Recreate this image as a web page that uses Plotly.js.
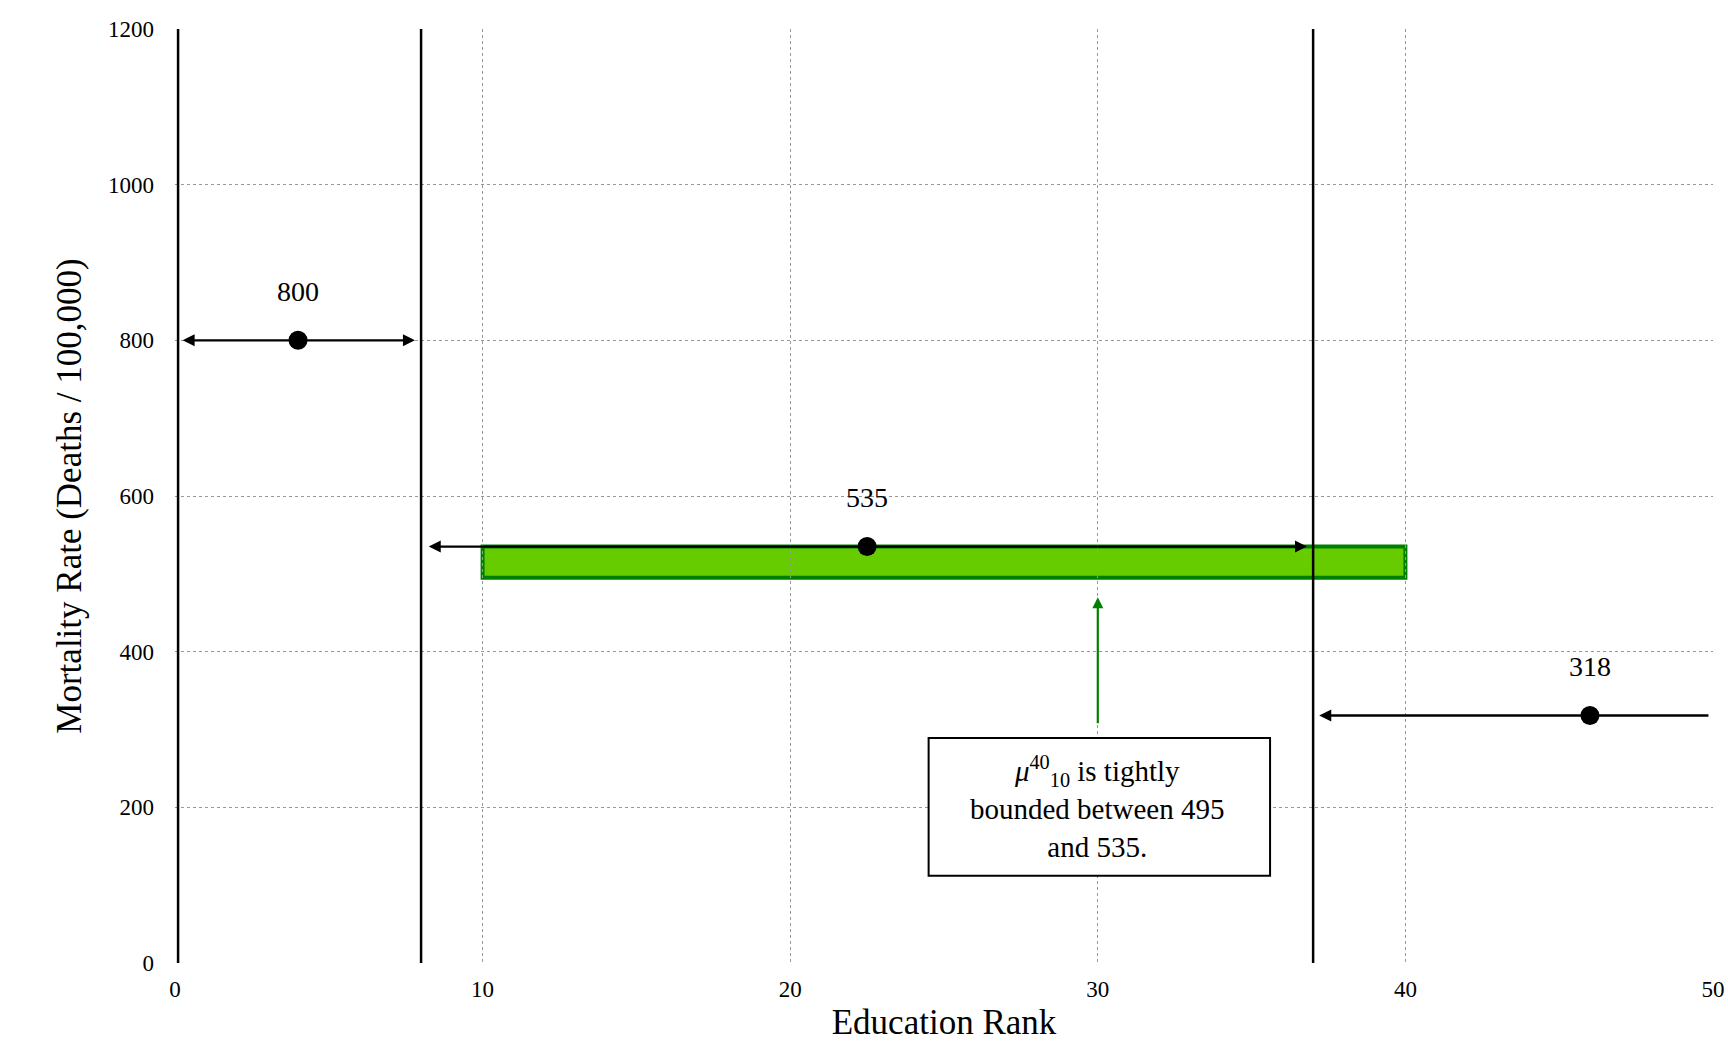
<!DOCTYPE html>
<html><head><meta charset="utf-8">
<script src="https://cdn.plot.ly/plotly-3.0.1.min.js"></script>
<style>body{margin:0}</style></head>
<body><div id="c" style="width:1728px;height:1062px"></div>
<script>
const pointX = [4, 22.5, 46];
const pointY = [800, 535, 318];
const pointLabels = ["800", "535", "318"];
const vlineX = [0.1, 8, 37];
const rangeStart = [0.2, 8.2, 49.9];
const rangeEnd = [7.8, 36.8, 37.2];
const bandX = [10, 40];
const bandY = [495, 535];
const xTicks = [0, 10, 20, 30, 40, 50];
const yTicks = [0, 200, 400, 600, 800, 1000, 1200];

const F = "Liberation Serif, serif";
const shapes = vlineX.map(v => ({type:'line', x0:v, x1:v, y0:0, y1:1200, line:{color:'black', width:2.5}}));
shapes.push({type:'rect', x0:bandX[0], x1:bandX[1], y0:bandY[0], y1:bandY[1], fillcolor:'#66cc00', line:{color:'#008000', width:4}, layer:'below'});
shapes.push({type:'rect', x0:24.5, x1:35.6, y0:112, y1:289, fillcolor:'white', line:{color:'black', width:2}});

const ann = [];
pointX.forEach((x,i) => {
  ann.push({x:x, y:pointY[i]+40, text:pointLabels[i], showarrow:false, yanchor:'bottom', font:{size:28, family:F, color:'black'}});
  const dbl = i < 2;
  ann.push({x:rangeEnd[i], y:pointY[i], ax:rangeStart[i], ay:pointY[i], axref:'x', ayref:'y', xref:'x', yref:'y', text:'', showarrow:true, arrowhead:2, arrowside: dbl ? 'end+start' : 'end', arrowsize:1, arrowwidth:2.4, arrowcolor:'black'});
});
ann.push({x:30, y:470, ax:30, ay:306, axref:'x', ayref:'y', text:'', showarrow:true, arrowhead:2, arrowsize:1, arrowwidth:2.2, arrowcolor:'#008000'});
ann.push({x:30, y:200, text:'<i>μ</i><sup>40</sup><sub>10</sub> is tightly<br>bounded between 495<br>and 535.', showarrow:false, font:{size:29, family:F, color:'black'}});

Plotly.newPlot('c', [{
  x: pointX, y: pointY, mode:'markers', type:'scatter', marker:{size:19, color:'black'}, showlegend:false, cliponaxis:false
}], {
  width:1728, height:1062,
  margin:{l:175, r:15, t:29, b:99},
  plot_bgcolor:'white', paper_bgcolor:'white',
  font:{family:F, size:23, color:'black'},
  xaxis:{range:[0,50], tickvals:xTicks, showline:false, zeroline:false, gridcolor:'#999', griddash:'dot', gridwidth:1, ticks:'', ticklabelstandoff:10,
    title:{text:'Education Rank', font:{size:35, family:F}, standoff:8}},
  yaxis:{range:[0,1200], tickvals:yTicks, showline:false, zeroline:false, gridcolor:'#999', griddash:'dot', gridwidth:1, ticks:'', ticklabelstandoff:20,
    title:{text:'Mortality Rate (Deaths / 100,000)', font:{size:35, family:F}, standoff:15}},
  shapes: shapes, annotations: ann
}, {displayModeBar:false});
</script></body></html>
